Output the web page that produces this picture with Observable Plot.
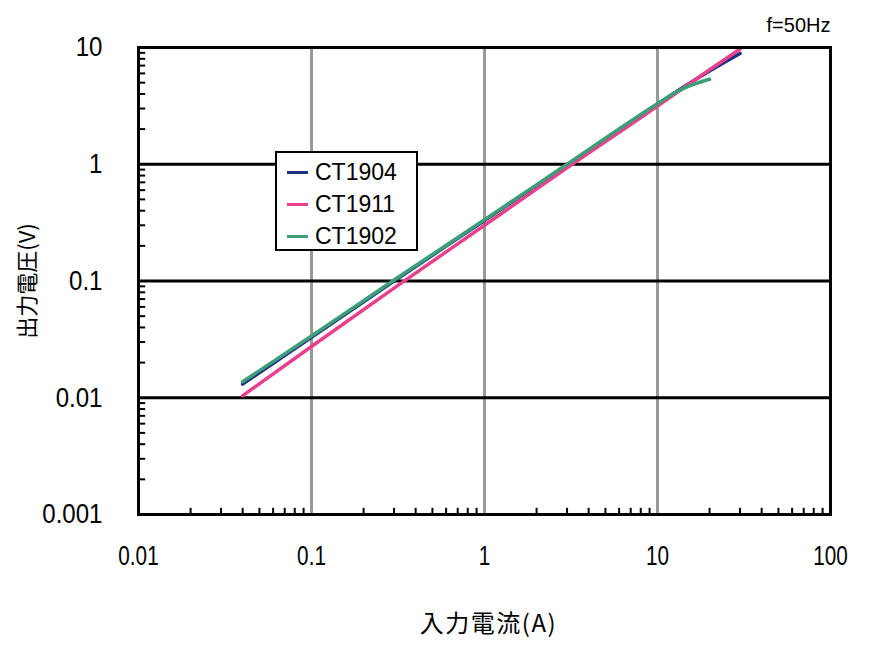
<!DOCTYPE html>
<html>
<head>
<meta charset="utf-8">
<script src="https://cdn.jsdelivr.net/npm/d3@7"></script>
<script src="https://cdn.jsdelivr.net/npm/@observablehq/plot@0.6"></script>
<style>
  html, body { margin: 0; padding: 0; background: #fff; }
  #wrap { position: relative; width: 872px; height: 647px; }
  #legend { position: absolute; left: 275px; top: 151px; width: 139px; height: 96px;
    border: 2px solid #000; background: #fff; font-family: "Liberation Sans", Arial, sans-serif; font-size: 23px; }
  .item { position: absolute; left: 0; height: 30px; line-height: 30px; }
  .item span.sw { position: absolute; left: 10px; top: 14px; width: 21px; height: 3px; }
  .item span.lb { position: absolute; left: 38px; top: 0; white-space: nowrap; }
</style>
</head>
<body>
<div id="wrap"></div>
<script>
// Series data
const seriesNames = ["CT1904", "CT1911", "CT1902"];
const seriesColors = ["#1f2f82", "#e8408c", "#3c9f78"];

const xCT1904 = [0.04, 0.1, 0.3, 1, 3, 10, 15, 20, 30];
const yCT1904 = [0.0131, 0.033, 0.100, 0.33, 0.99, 3.28, 4.85, 6.3, 8.9];

const xCT1911 = [0.04, 0.1, 0.3, 1, 3, 10, 15, 20, 30];
const yCT1911 = [0.0104, 0.0275, 0.087, 0.30, 0.93, 3.15, 4.8, 6.45, 9.7];

const xCT1902 = [0.04, 0.1, 0.3, 1, 3, 10, 13, 16, 20];
const yCT1902 = [0.0137, 0.0338, 0.102, 0.335, 1.0, 3.3, 4.2, 4.8, 5.35];

// Axis ticks
const xMajor = [0.01, 0.1, 1, 10, 100];
const yMajor = [0.001, 0.01, 0.1, 1, 10];
const xGrid = [0.1, 1, 10];
const yGrid = [0.01, 0.1, 1];
const multipliers = [2, 3, 4, 5, 6, 7, 8, 9];

const xMinor = [0.01, 0.1, 1, 10].flatMap(d => multipliers.map(m => d * m));
const yMinor = [0.001, 0.01, 0.1, 1].flatMap(d => multipliers.map(m => d * m));

const xTitle = "入力電流(A)";
const yTitle = "出力電圧(V)";
const note = "f=50Hz";

const rows = [
  ...xCT1904.map((x, i) => ({series: "CT1904", x, y: yCT1904[i]})),
  ...xCT1911.map((x, i) => ({series: "CT1911", x, y: yCT1911[i]})),
  ...xCT1902.map((x, i) => ({series: "CT1902", x, y: yCT1902[i]}))
];

const font = "'Liberation Sans', Arial, 'Noto Sans CJK JP', sans-serif";
const cjk = "'Noto Sans CJK JP', sans-serif";

const chart = Plot.plot({
  width: 872,
  height: 647,
  marginLeft: 138,
  marginRight: 42,
  marginTop: 47,
  marginBottom: 133,
  style: {fontFamily: font, background: "#fff", color: "#000"},
  x: {type: "log", domain: [0.01, 100]},
  y: {type: "log", domain: [0.001, 10]},
  color: {domain: seriesNames, range: seriesColors},
  marks: [
    Plot.ruleX(xGrid, {stroke: "#999", strokeWidth: 3}),
    Plot.ruleY(yGrid, {stroke: "#000", strokeWidth: 3}),
    Plot.ruleY(yMinor, {x1: 0.01, x2: 0.01 * 1.1, stroke: "#000", strokeWidth: 2}),
    Plot.ruleX(xMinor, {y1: 0.001, y2: 0.001 * 1.13, stroke: "#000", strokeWidth: 2}),
    Plot.line(rows, {x: "x", y: "y", z: "series", stroke: "series", strokeWidth: 3.5, curve: "monotone-x"}),
    Plot.frame({stroke: "#000", strokeWidth: 3}),
    Plot.axisY({anchor: "left", ticks: yMajor, tickSize: 0, tickPadding: 36, tickFormat: d => String(d), fontSize: 28, label: null}),
    Plot.axisX({anchor: "bottom", ticks: xMajor, tickSize: 0, tickPadding: 31, tickFormat: d => String(d), fontSize: 28, label: null}),
    Plot.text([xTitle], {frameAnchor: "bottom", dy: 117, dx: 4, fontSize: 24, fontFamily: cjk, text: d => d}),
    Plot.text([yTitle], {frameAnchor: "left", textAnchor: "middle", dx: -111, dy: 0, rotate: -90, fontSize: 22, fontFamily: cjk, text: d => d}),
    Plot.text([note], {frameAnchor: "top-right", dy: -30, textAnchor: "end", fontSize: 20, text: d => d})
  ]
});

// horizontally condense the tick labels to match the reference's narrow face
chart.querySelectorAll('g[aria-label="y-axis tick label"] text').forEach(t => {
  t.setAttribute("transform", (t.getAttribute("transform") || "") + " scale(0.86,1)");
});
chart.querySelectorAll('g[aria-label="x-axis tick label"] text').forEach(t => {
  t.setAttribute("transform", (t.getAttribute("transform") || "") + " scale(0.74,1)");
});
chart.querySelectorAll('g[aria-label="text"] text').forEach(t => {
  if (t.textContent === xTitle) t.setAttribute("letter-spacing", "1.5");
});

const wrap = document.getElementById("wrap");
wrap.appendChild(chart);

const legend = document.createElement("div");
legend.id = "legend";
seriesNames.forEach((name, i) => {
  const item = document.createElement("div");
  item.className = "item";
  item.style.top = (4 + i * 32) + "px";
  item.innerHTML = `<span class="sw" style="background:${seriesColors[i]}"></span><span class="lb">${name}</span>`;
  legend.appendChild(item);
});
wrap.appendChild(legend);
</script>
</body>
</html>
